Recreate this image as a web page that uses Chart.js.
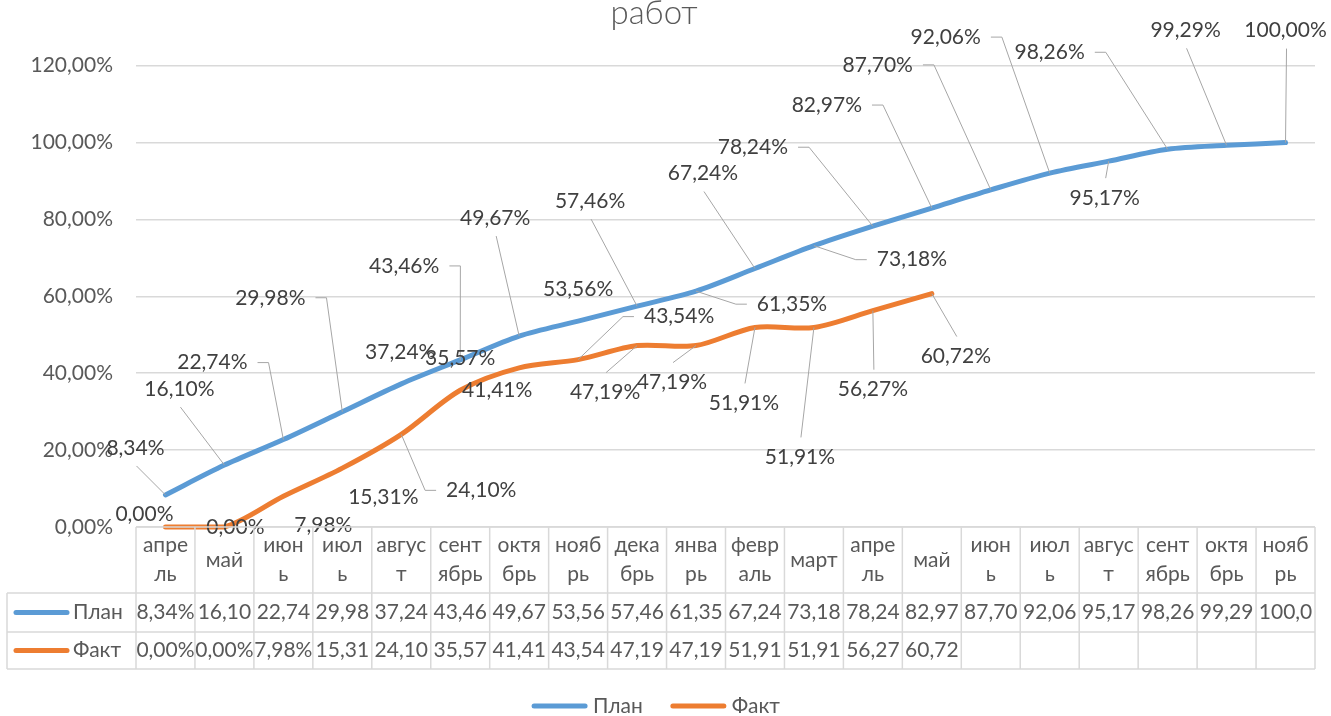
<!DOCTYPE html>
<html>
<head>
<meta charset="utf-8">
<script src="https://cdn.jsdelivr.net/npm/chart.js@4.4.1/dist/chart.umd.min.js"></script>
<style>
  html, body { margin: 0; padding: 0; background: #ffffff; }
  canvas { display: block; }
</style>
</head>
<body>
<canvas id="c" width="1331" height="716"></canvas>
<script>
// ---------- DATA ----------
const titleText = 'работ';
const seriesNames = ['План', 'Факт'];
const categories = ['апрель','май','июнь','июль','август','сентябрь','октябрь','ноябрь','декабрь','январь',
                    'февраль','март','апрель','май','июнь','июль','август','сентябрь','октябрь','ноябрь'];
const tickLabels = [['апре','ль'],['май'],['июн','ь'],['июл','ь'],['авгус','т'],['сент','ябрь'],['октя','брь'],
                    ['нояб','рь'],['дека','брь'],['янва','рь'],['февр','аль'],['март'],['апре','ль'],['май'],
                    ['июн','ь'],['июл','ь'],['авгус','т'],['сент','ябрь'],['октя','брь'],['нояб','рь']];
const planValues = [8.34,16.10,22.74,29.98,37.24,43.46,49.67,53.56,57.46,61.35,67.24,73.18,78.24,82.97,87.70,92.06,95.17,98.26,99.29,100.00];
const factValues = [0.00,0.00,7.98,15.31,24.10,35.57,41.41,43.54,47.19,47.19,51.91,51.91,56.27,60.72];
const yMin = 0, yMax = 120, yStep = 20;

// ---------- STYLE ----------
const FONT = '"Lato", "Open Sans", "Noto Sans", sans-serif';
const COLORS = ['#5B9BD5', '#ED7D31'];
const TEXT_GRAY = '#595959';
const LABEL_GRAY = '#404040';
const GRID = '#d9d9d9';
const LEADER = '#a6a6a6';
// label placement: [dx, dy, leaderType] relative to the point
const LABEL_LAYOUT = [
  [[-30,-47,'b'],[-45,-76,'b'],[-71,-77,'r'],[-72,-114,'r'],[-1,-32,null],[-56,-94,'r'],[-24,-118,'b'],
   [0,-32,null],[-47,-105,'b'],[96,13,'l'],[-52,-95,'b'],[98,14,'l'],[-120,-79,'r'],[-105,-103,'r'],
   [-113,-125,'r'],[-104,-136,'r'],[-4,37,'t'],[-118,-97,'r'],[-41,-115,'b'],[0,-112,'b']],
  [[-21,-13,null],[11,0,null],[40,29,null],[41,29,null],[80,56,'l'],[0,-32,null],[-22,22,null],
   [101,-43,'l'],[-32,47,'t'],[-24,37,'t'],[-11,76,'t'],[-14,130,'t'],[0,79,'t'],[24,63,'t']]
];
const TABLE = { left: 7, headerBottom: 593, row1Bottom: 632, row2Bottom: 669 };
const TITLE_POS = { x: 654, y: 24 };
const LEGEND_POS = { cx: 656, y: 706 };

const fmt = v => v.toFixed(2).replace('.', ',') + '%';

const overlayPlugin = {
  id: 'overlay',
  afterDatasetsDraw(chart) {
    const ctx = chart.ctx;
    ctx.save();
    ctx.font = '21px ' + FONT;
    ctx.textAlign = 'center';
    ctx.textBaseline = 'middle';
    chart.data.datasets.forEach((ds, di) => {
      const meta = chart.getDatasetMeta(di);
      meta.data.forEach((pt, i) => {
        const v = ds.data[i];
        if (v === null || v === undefined) return;
        const lay = LABEL_LAYOUT[di][i];
        const cx = pt.x + lay[0], cy = pt.y + lay[1];
        const text = fmt(v);
        const w = ctx.measureText(text).width;
        if (lay[2]) {
          ctx.beginPath();
          ctx.strokeStyle = LEADER;
          ctx.lineWidth = 1;
          if (lay[2] === 'b') {
            ctx.moveTo(cx + 1, cy + 18); ctx.lineTo(pt.x, pt.y);
          } else if (lay[2] === 't') {
            ctx.moveTo(cx + 1, cy - 20); ctx.lineTo(pt.x, pt.y);
          } else if (lay[2] === 'r') {
            const r = cx + w / 2;
            ctx.moveTo(r + 10, cy); ctx.lineTo(r + 21, cy); ctx.lineTo(pt.x, pt.y);
          } else if (lay[2] === 'l') {
            const l = cx - w / 2;
            ctx.moveTo(l - 10, cy); ctx.lineTo(l - 21, cy); ctx.lineTo(pt.x, pt.y);
          }
          ctx.stroke();
        }
        ctx.fillStyle = LABEL_GRAY;
        ctx.fillText(text, cx, cy);
      });
    });
    ctx.restore();
  },
  afterDraw(chart) {
    const ctx = chart.ctx;
    const area = chart.chartArea;
    const xs = chart.scales.x;
    const n = categories.length;
    const cw = (area.right - area.left) / n;
    const y0 = area.bottom, y1 = TABLE.headerBottom, y2 = TABLE.row1Bottom, y3 = TABLE.row2Bottom;
    ctx.save();
    // title
    ctx.font = '300 33px ' + FONT;
    ctx.fillStyle = TEXT_GRAY;
    ctx.textAlign = 'center';
    ctx.textBaseline = 'alphabetic';
    ctx.fillText(titleText, TITLE_POS.x, TITLE_POS.y);

    // table grid
    ctx.strokeStyle = GRID;
    ctx.lineWidth = 1.5;
    ctx.beginPath();
    for (let k = 0; k <= n; k++) {
      const x = area.left + k * cw;
      ctx.moveTo(x, y0); ctx.lineTo(x, y3);
    }
    ctx.moveTo(TABLE.left, y1); ctx.lineTo(TABLE.left, y3);
    ctx.moveTo(area.left, y0); ctx.lineTo(area.right, y0);
    [y1, y2, y3].forEach(y => { ctx.moveTo(TABLE.left, y); ctx.lineTo(area.right, y); });
    ctx.stroke();

    // header (category) labels
    ctx.font = '21px ' + FONT;
    ctx.fillStyle = TEXT_GRAY;
    ctx.textAlign = 'center';
    ctx.textBaseline = 'middle';
    const hm = (y0 + y1) / 2;
    tickLabels.forEach((lines, i) => {
      const x = xs.getPixelForValue(i);
      if (lines.length === 1) ctx.fillText(lines[0], x, hm);
      else { ctx.fillText(lines[0], x, hm - 14.5); ctx.fillText(lines[1], x, hm + 14.5); }
    });

    // value rows
    const fit = (t) => {
      if (ctx.measureText(t).width <= cw + 3) return t;
      while (t.length > 1 && ctx.measureText(t).width > cw - 2) t = t.slice(0, -1);
      return t;
    };
    const rowMids = [(y1 + y2) / 2, (y2 + y3) / 2];
    chart.data.datasets.forEach((ds, di) => {
      const ym = rowMids[di];
      // legend key
      ctx.beginPath();
      ctx.strokeStyle = ds.borderColor;
      ctx.lineWidth = 5;
      ctx.lineCap = 'round';
      ctx.moveTo(16, ym); ctx.lineTo(67, ym);
      ctx.stroke();
      ctx.textAlign = 'left';
      ctx.fillStyle = TEXT_GRAY;
      ctx.fillText(ds.label, 73, ym);
      ctx.textAlign = 'center';
      for (let i = 0; i < n; i++) {
        const v = ds.data[i];
        if (v === null || v === undefined) continue;
        ctx.fillText(fit(fmt(v)), xs.getPixelForValue(i), ym);
      }
    });

    // bottom legend
    ctx.font = '21px ' + FONT;
    const keyW = 55, gapKT = 6, itemGap = 28;
    const widths = chart.data.datasets.map(ds => keyW + gapKT + ctx.measureText(ds.label).width);
    const total = widths.reduce((a, b) => a + b, 0) + itemGap * (widths.length - 1);
    let x = LEGEND_POS.cx - total / 2;
    chart.data.datasets.forEach((ds, di) => {
      ctx.beginPath();
      ctx.strokeStyle = ds.borderColor;
      ctx.lineWidth = 5;
      ctx.lineCap = 'round';
      ctx.moveTo(x + 2, LEGEND_POS.y); ctx.lineTo(x + keyW - 2, LEGEND_POS.y);
      ctx.stroke();
      ctx.textAlign = 'left';
      ctx.fillStyle = TEXT_GRAY;
      ctx.fillText(ds.label, x + keyW + gapKT, LEGEND_POS.y);
      x += widths[di] + itemGap;
    });
    ctx.restore();
  }
};

const makeDataset = (label, data, color, order) => ({
  label, data,
  borderColor: color,
  backgroundColor: color,
  borderWidth: 5,
  borderCapStyle: 'round',
  borderJoinStyle: 'round',
  pointRadius: 0,
  pointHoverRadius: 0,
  tension: 0.3,
  fill: false,
  clip: false,
  order
});

new Chart(document.getElementById('c'), {
  type: 'line',
  data: {
    labels: categories,
    datasets: [
      makeDataset(seriesNames[0], planValues, COLORS[0], 1),
      makeDataset(seriesNames[1], factValues, COLORS[1], 0)
    ]
  },
  options: {
    responsive: false,
    animation: false,
    events: [],
    layout: { padding: { left: 0, right: 16, top: 65.7, bottom: 189 } },
    plugins: { legend: { display: false }, tooltip: { enabled: false }, title: { display: false } },
    scales: {
      x: { type: 'category', display: false, offset: true },
      y: {
        min: yMin, max: yMax,
        ticks: {
          stepSize: yStep, padding: 23, color: TEXT_GRAY,
          font: { family: FONT, size: 21 },
          callback: v => fmt(v)
        },
        grid: { color: GRID, lineWidth: 1.5, drawTicks: false },
        border: { display: false },
        afterFit(scale) { scale.width = 136; }
      }
    }
  },
  plugins: [overlayPlugin]
});
</script>
</body>
</html>
